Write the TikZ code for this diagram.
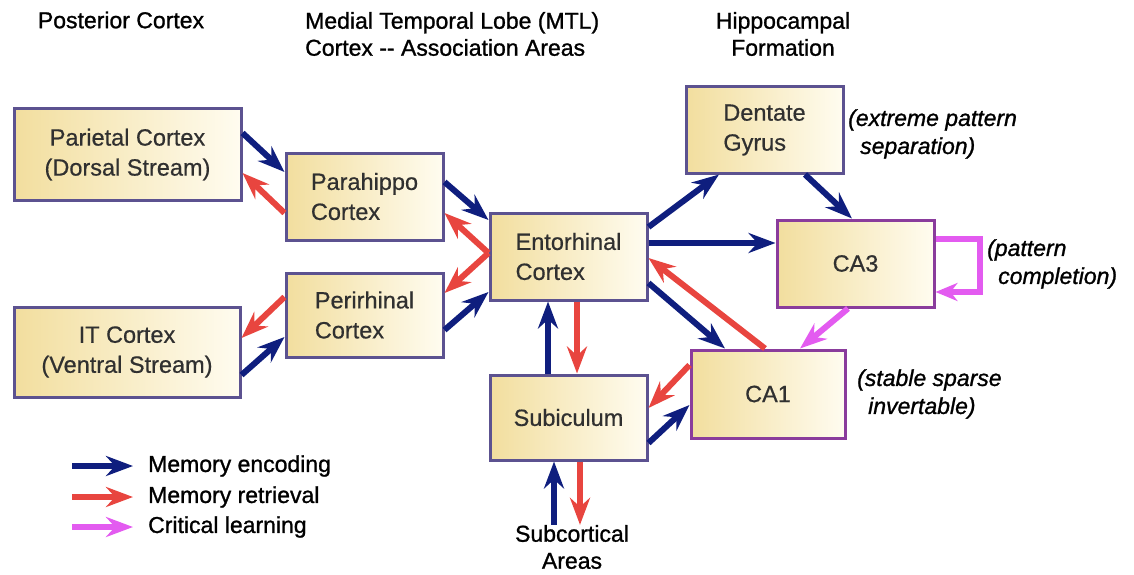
\documentclass[tikz,border=0pt]{standalone}
\usepackage{fontspec}
\setmainfont{Liberation Sans}
\newfontfamily\darkfont{Liberation Sans}[FakeBold=1.1]
\newfontfamily\darkitfont{Liberation Sans Italic}[FakeBold=1.1]
\newfontfamily\boxfont{Liberation Sans}[FakeBold=0.6]
\usetikzlibrary{arrows.meta}
\definecolor{encblue}{HTML}{0F1E7E}
\definecolor{retred}{HTML}{E8453F}
\definecolor{critmag}{HTML}{E35BF0}
\definecolor{boxedge}{HTML}{5C5290}
\definecolor{caedge}{HTML}{8A3C9C}
\definecolor{boxL}{HTML}{F2DE9E}
\definecolor{boxR}{HTML}{FFFCF0}
\definecolor{boxtext}{HTML}{303030}
\tikzset{
  box/.style={draw=boxedge, line width=3pt, left color=boxL, right color=boxR,
    text=boxtext, font=\boxfont\fontsize{23.5}{30}\selectfont, inner sep=0pt},
  cabox/.style={box, draw=caedge},
  arr/.style={line width=6pt, -{Stealth[length=27pt,width=20pt,inset=9pt]}},
  enc/.style={arr, draw=encblue},
  ret/.style={arr, draw=retred},
  crit/.style={arr, draw=critmag},
  hdr/.style={font=\darkfont\fontsize{23}{27}\selectfont, text=black, inner sep=0pt},
  note/.style={font=\darkitfont\fontsize{23}{28}\selectfont, text=black, inner sep=0pt, align=left, anchor=west},
  legtxt/.style={font=\darkfont\fontsize{23}{27}\selectfont, text=black, inner sep=0pt, anchor=west}
}
\begin{document}
\begin{tikzpicture}[x=1pt,y=-1pt]
\useasboundingbox (0,0) rectangle (1134,575);
% headers
\node[hdr] (h1) at (121,20) {Posterior Cortex};
\node[hdr, align=left, anchor=west] (h2) at (305,34) {Medial Temporal Lobe (MTL)\\Cortex -{}- Association Areas};
\node[hdr, align=center] (h3) at (783,34) {Hippocampal\\Formation};
% boxes
\node[box, minimum width=227pt, minimum height=91pt, align=center] (par) at (127.5,154.5) {Parietal Cortex\\(Dorsal Stream)};
\node[box, minimum width=226pt, minimum height=90pt, align=center] (itc) at (127,352) {IT Cortex\\(Ventral Stream)};
\node[box, minimum width=157pt, minimum height=87pt, align=left] (phc) at (364.5,196.5) {Parahippo\\Cortex};
\node[box, minimum width=157pt, minimum height=84pt, align=left] (prc) at (364.5,315) {Perirhinal\\Cortex};
\node[box, minimum width=157pt, minimum height=87pt, align=left] (ent) at (568.5,256.5) {Entorhinal\\Cortex};
\node[box, minimum width=157pt, minimum height=86pt, align=left] (dg) at (764.5,130) {Dentate\\Gyrus};
\node[cabox, minimum width=157pt, minimum height=87pt] (ca3) at (855.5,263.5) {CA3};
\node[cabox, minimum width=154pt, minimum height=88pt] (ca1) at (768,394) {CA1};
\node[box, minimum width=157pt, minimum height=85pt] (sub) at (568.5,417.5) {Subiculum};
\node[hdr, align=center] (sc) at (572,547) {Subcortical\\Areas};
% notes
\node[note] (n1) at (848,134) {(extreme pattern\\\hspace*{12pt}separation)};
\node[note] (n2) at (987,264) {(pattern\\\hspace*{11pt}completion)};
\node[note] (n3) at (857,394) {(stable sparse\\\hspace*{11pt}invertable)};
% connectors
\draw[enc] ([yshift=21.5pt]par.east) -- ([yshift=24.5pt]phc.west);
\draw[ret] ([yshift=-16.5pt]phc.west) -- ([yshift=-18.5pt]par.east);
\draw[enc] ([yshift=14.5pt]phc.east) -- ([yshift=36.5pt]ent.west);
\draw[ret] ([yshift=3.5pt]ent.west) -- ([yshift=-16.5pt]phc.east);
\draw[ret] ([yshift=3.5pt]ent.west) -- ([yshift=22pt]prc.east);
\draw[enc] ([yshift=-15pt]prc.east) -- ([yshift=-35.5pt]ent.west);
\draw[ret] ([yshift=18pt]prc.west) -- ([yshift=14pt]itc.east);
\draw[enc] ([yshift=-23pt]itc.east) -- ([yshift=-22pt]prc.west);
\draw[enc] ([yshift=29.5pt]ent.east) -- ([xshift=-45.5pt]dg.south);
\draw[enc] ([xshift=40.5pt]dg.south) -- ([xshift=-3.5pt]ca3.north);
\draw[enc] ([yshift=13.5pt]ent.east) -- ([yshift=20.5pt]ca3.west);
\draw[enc] ([yshift=-26.5pt]ent.east) -- ([xshift=-43pt]ca1.north);
\draw[ret] ([xshift=-3pt]ca1.north) -- ([yshift=-1.5pt]ent.east);
\draw[crit] ([xshift=-7.5pt]ca3.south) -- ([xshift=32pt]ca1.north);
\draw[crit, -{Stealth[length=22pt,width=18pt,inset=7pt]}] ([yshift=24.5pt]ca3.east) -- ++(44,0) -- ++(0,53) -- ([yshift=-28.5pt]ca3.east);
\draw[ret] ([xshift=8.5pt]ent.south) -- ([xshift=8.5pt]sub.north);
\draw[enc] ([xshift=-20.5pt]sub.north) -- ([xshift=-20.5pt]ent.south);
\draw[ret] ([yshift=29pt]ca1.west) -- ([yshift=9.5pt]sub.east);
\draw[enc] ([yshift=-25.5pt]sub.east) -- ([yshift=-11pt]ca1.west);
\draw[enc] ([xshift=-18pt]sc.north) -- ([xshift=-14.5pt]sub.south);
\draw[ret] ([xshift=11.5pt]sub.south) -- ([xshift=8pt]sc.north);
% legend
\node[legtxt] (t1) at (148,466) {Memory encoding};
\node[legtxt] (t2) at (148,497) {Memory retrieval};
\node[legtxt] (t3) at (148,527) {Critical learning};
\coordinate (lg1) at (72,466);
\coordinate (lg2) at (72,497);
\coordinate (lg3) at (72,527);
\draw[enc] (lg1) -- ([xshift=-15pt]t1.west);
\draw[ret] (lg2) -- ([xshift=-15pt]t2.west);
\draw[crit] (lg3) -- ([xshift=-15pt]t3.west);
\end{tikzpicture}
\end{document}
